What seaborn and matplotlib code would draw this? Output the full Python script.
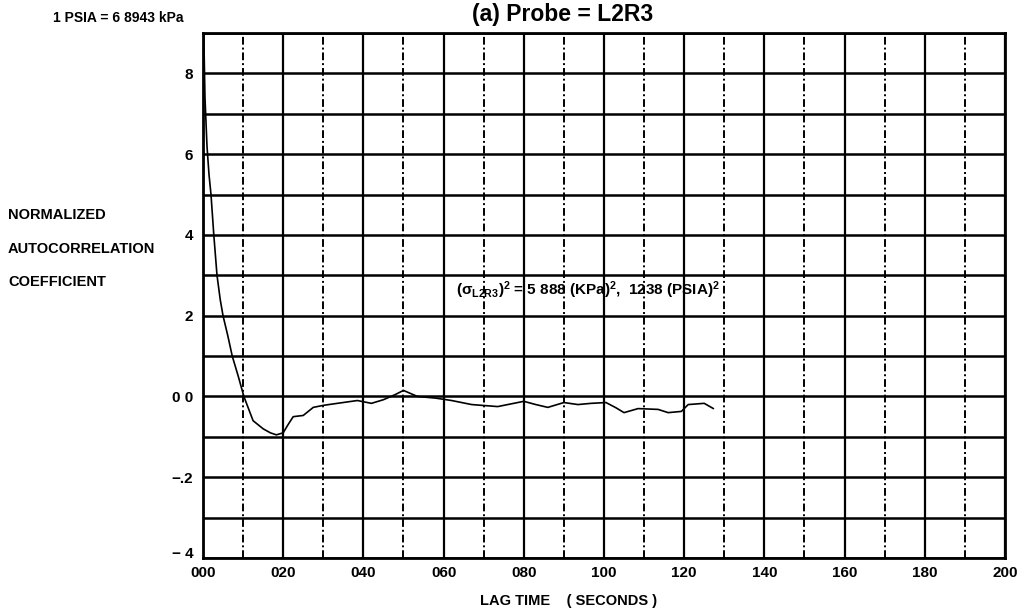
import pandas as pd
import matplotlib.pyplot as plt
import seaborn as sns

# lag time (s) and normalized autocorrelation
lag = [0.0, 0.0005, 0.001, 0.0015, 0.002, 0.0027, 0.0035, 0.0043, 0.005, 0.0062,
       0.0073, 0.0088, 0.0102, 0.0125, 0.015, 0.0168, 0.0183, 0.020, 0.0212, 0.0225,
       0.025, 0.0275, 0.030, 0.0335, 0.0385, 0.042, 0.045, 0.048, 0.050, 0.0535,
       0.058, 0.062, 0.067, 0.0735, 0.077, 0.080, 0.083, 0.086, 0.090, 0.0935,
       0.0968, 0.1005, 0.103, 0.105, 0.1085, 0.1135, 0.116, 0.1193, 0.121, 0.125, 0.1273]
corr = [1.0, 0.74, 0.62, 0.55, 0.50, 0.40, 0.30, 0.24, 0.20, 0.15,
        0.10, 0.05, 0.0, -0.06, -0.08, -0.09, -0.095, -0.09, -0.07, -0.05,
        -0.047, -0.027, -0.022, -0.017, -0.01, -0.017, -0.008, 0.005, 0.015, 0.0,
        -0.004, -0.01, -0.02, -0.025, -0.018, -0.012, -0.02, -0.027, -0.015, -0.02,
        -0.017, -0.015, -0.028, -0.04, -0.03, -0.032, -0.04, -0.037, -0.02, -0.017, -0.03]

x_ticks = [0.0, 0.02, 0.04, 0.06, 0.08, 0.10, 0.12, 0.14, 0.16, 0.18, 0.20]
x_labels = ['000', '020', '040', '060', '080', '100', '120', '140', '160', '180', '200']
y_ticks = [0.8, 0.6, 0.4, 0.2, 0.0, -0.2, -0.4]
y_labels = ['8', '6', '4', '2', '0 0', '\u2212.2', '\u2212 4']

df = pd.DataFrame({'lag': lag, 'corr': corr})

sns.set_style('white')
plt.rcParams['font.family'] = ['Liberation Sans', 'DejaVu Sans']
plt.rcParams['text.color'] = 'black'
plt.rcParams['mathtext.fontset'] = 'custom'
plt.rcParams['mathtext.rm'] = 'Liberation Sans:bold'
plt.rcParams['mathtext.it'] = 'Liberation Sans:bold'
plt.rcParams['mathtext.bf'] = 'Liberation Sans:bold'

fig = plt.figure(figsize=(10.21, 6.10), dpi=100)
ax = fig.add_axes([0.1988, 0.0852, 0.7855, 0.8607])

# grid: solid rows every 0.1, solid columns every 0.02, dashed in between
for k in range(-4, 10):
    ax.axhline(k / 10, color='black', lw=1.8, zorder=1)
for k in range(0, 21):
    if k % 2 == 0:
        ax.axvline(k / 100, color='black', lw=1.6, zorder=1)
    else:
        ax.axvline(k / 100, color='black', lw=1.4, ls=(0, (4, 1.5, 1, 1.5)), zorder=1)

sns.lineplot(data=df, x='lag', y='corr', color='black', lw=1.2, ax=ax, zorder=3)

ax.set_xlim(0, 0.2)
ax.set_ylim(-0.4, 0.9)
ax.set_xticks(x_ticks)
ax.set_xticklabels(x_labels, fontsize=11, fontweight='bold', color='black')
ax.set_yticks(y_ticks)
ax.set_yticklabels(y_labels, fontsize=11, fontweight='bold', color='black')
ax.tick_params(axis='x', length=0, pad=6)
ax.tick_params(axis='y', length=0, pad=7)
ax.get_yticklabels()[-1].set_verticalalignment('baseline')
ax.set_xlabel('')
ax.set_ylabel('')
for s in ax.spines.values():
    s.set_color('black')
    s.set_linewidth(2)

fig.text(53 / 1021, 1 - 18 / 610, '1 PSIA = 6 8943 kPa', fontsize=10, fontweight='bold', va='center')
fig.text(472 / 1021, 1 - 15 / 610, '(a) Probe = L2R3', fontsize=16.5, fontweight='bold', va='center')
for txt, yp in [('NORMALIZED', 215), ('AUTOCORRELATION', 249), ('COEFFICIENT', 282)]:
    fig.text(8 / 1021, 1 - yp / 610, txt, fontsize=10.5, fontweight='bold', va='center')
fig.text(480 / 1021, 1 - 601 / 610, 'LAG TIME    ( SECONDS )', fontsize=10.5, fontweight='bold', va='center')
ax.text(0.063, 0.263, r'$(\sigma_{\mathrm{L2R3}})^2$ = 5 888 (KPa)$^2$,  1238 (PSIA)$^2$',
        fontsize=11, fontweight='bold', va='center', zorder=4)

fig.savefig('out.png', dpi=100, facecolor='white')
